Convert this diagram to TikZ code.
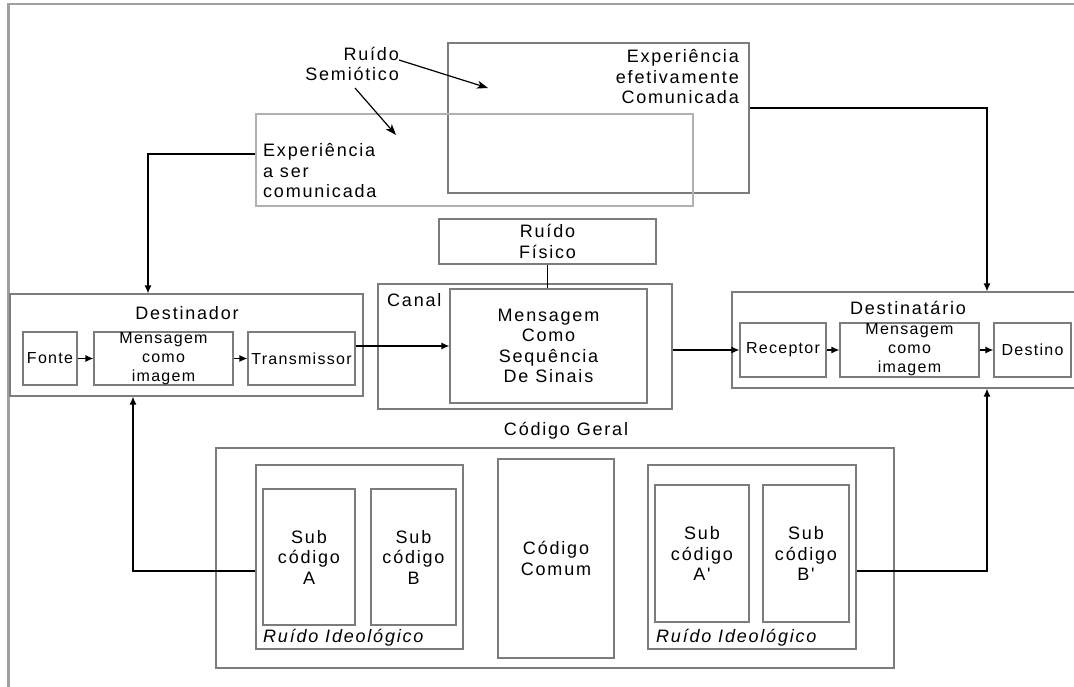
\documentclass[tikz,border=0pt]{standalone}
\usepackage{fontspec}
\setmainfont{Liberation Sans}[LetterSpace=10, Ligatures=TeXOff]
\usetikzlibrary{arrows.meta}
\definecolor{boxgray}{HTML}{7C7C7C}
\definecolor{lightboxgray}{HTML}{B0B0B0}
\definecolor{framegray}{HTML}{A0A0A0}
\newcommand{\bigtxt}{\fontsize{18}{20.5}\selectfont}
\newcommand{\smalltxt}{\fontsize{16}{19}\selectfont\addfontfeature{LetterSpace=8}}
\tikzset{
  box/.style={draw=boxgray, line width=1.2pt, inner sep=0pt, align=center, font=\bigtxt},
  lightbox/.style={box, draw=lightboxgray},
  smallbox/.style={box, font=\smalltxt},
  txt/.style={inner sep=0pt, font=\bigtxt, align=center},
  conn/.style={draw=black, line width=1.2pt},
  arr/.style={conn, -{Latex[length=8pt,width=7pt]}},
  sarr/.style={conn, -{Stealth[length=11pt,width=8pt,inset=3pt]}},
}
\begin{document}
\begin{tikzpicture}[x=1pt,y=-1pt]
\useasboundingbox (0,0) rectangle (1074,687);
\clip (0,0) rectangle (1074,687);
% page frame
\draw[framegray, line width=2.5pt] (1080,4) -- (8.5,4) -- (8.5,690);

% top experience boxes
\node[box, minimum width=301pt, minimum height=150pt] (expB) at (598.5,118) {};
\node[lightbox, minimum width=437pt, minimum height=92pt] (expA) at (474.5,160) {};
\node[txt, align=left, anchor=west] (expAt) at (263,171) {Experiência\\a ser\\comunicada};
\node[txt, align=right, anchor=east] (expBt) at (739,77) {Experiência\\efetivamente\\Comunicada};

% semiotic noise
\node[txt, align=right, anchor=east] (rs) at (399,64) {Ruído\\Semiótico};
\coordinate (rsEndA) at (488,88);
\coordinate (rsEndB) at (396,135);
\coordinate (rsStartB) at (355,88);
\draw[sarr] ([yshift=4pt]rs.east) -- (rsEndA);
\draw[sarr] (rsStartB) -- (rsEndB);

% physical noise and channel
\node[box, minimum width=217pt, minimum height=45pt] (ruidoF) at (547.5,241.5) {Ruído\\Físico};
\node[box, minimum width=294pt, minimum height=125pt] (canal) at (525,346.5) {};
\node[txt, anchor=west] (canalt) at (387,300) {Canal};
\node[box, minimum width=197pt, minimum height=114pt] (msg) at (548.5,346) {Mensagem\\Como\\Sequência\\De Sinais};
\draw[conn] (ruidoF.south) -- (ruidoF.south |- msg.north);

% Destinador
\node[box, minimum width=353pt, minimum height=102pt] (dest) at (186.5,345) {};
\node[txt] (destt) at (187,313) {Destinador};
\node[smallbox, minimum width=54pt, minimum height=53pt] (fonte) at (50,358.5) {Fonte};
\node[smallbox, minimum width=139pt, minimum height=53pt] (mimgA) at (163.5,358.5) {Mensagem\\como\\imagem};
\node[smallbox, minimum width=107pt, minimum height=53pt] (trans) at (301.5,358.5) {Transmissor};
\draw[arr] (fonte) -- (mimgA);
\draw[arr] (mimgA) -- (trans);
\draw[arr] (trans.east |- msg.west) -- (msg.west);

% Destinatario
\node[box, minimum width=358pt, minimum height=96pt] (destin) at (911,340) {};
\node[txt] (destint) at (908,308) {Destinatário};
\node[smallbox, minimum width=86pt, minimum height=54pt] (rec) at (783,350) {Receptor};
\node[smallbox, minimum width=139pt, minimum height=54pt] (mimgB) at (909.5,350) {Mensagem\\como\\imagem};
\node[smallbox, minimum width=77pt, minimum height=54pt] (destino) at (1032.5,350) {Destino};
\draw[arr] (canal.east |- rec.west) -- (rec.west);
\draw[arr] (rec) -- (mimgB);
\draw[arr] (mimgB) -- (destino);

% experience connectors
\draw[arr] ([yshift=6pt]expA.west) -| ([xshift=-38.5pt]dest.north);
\draw[arr] ([yshift=10pt]expB.east) -| ([xshift=76pt]destin.north);

% general code
\node[txt] (cgt) at (566,431) {Código Geral};
\node[box, minimum width=678pt, minimum height=220pt] (cg) at (555,558) {};
\node[box, minimum width=207pt, minimum height=184pt] (riA) at (359.5,557) {};
\node[box, minimum width=92pt, minimum height=136pt] (sA) at (309,557) {Sub\\código\\A};
\node[box, minimum width=85pt, minimum height=136pt] (sB) at (413.5,557) {Sub\\código\\B};
\node[txt, font=\bigtxt\itshape, anchor=west] (riAt) at (263,638) {Ruído Ideológico};
\node[box, minimum width=116pt, minimum height=199pt] (cc) at (556,558.5) {Código\\Comum};
\node[box, minimum width=208pt, minimum height=184pt] (riB) at (752,557) {};
\node[box, minimum width=94pt, minimum height=137pt] (sA2) at (702,553.5) {Sub\\código\\A'};
\node[box, minimum width=86pt, minimum height=137pt] (sB2) at (806,553.5) {Sub\\código\\B'};
\node[txt, font=\bigtxt\itshape, anchor=west] (riBt) at (656,638) {Ruído Ideológico};

\draw[arr] ([yshift=-14pt]riA.west) -| ([xshift=-53.5pt]dest.south);
\draw[arr] ([yshift=-14pt]riB.east) -| ([xshift=76pt]destin.south);
\end{tikzpicture}
\end{document}
